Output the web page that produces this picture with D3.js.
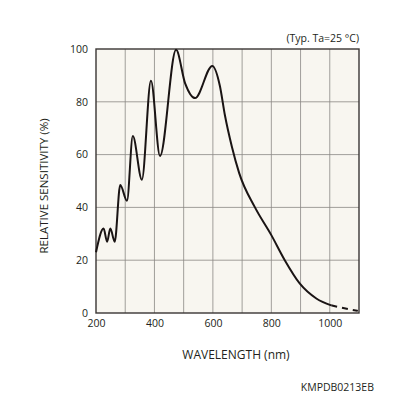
<!DOCTYPE html>
<html lang="en">
<head>
<meta charset="UTF-8">
<title>Relative sensitivity</title>
<script src="https://cdn.jsdelivr.net/npm/d3@7"></script>
<style>
  body { margin: 0; background: #fff; }
  text { font-family: "Open Sans", sans-serif; fill: #231f20; }
</style>
</head>
<body>
<script>
// solid part of the spectral response
const wavelengths = [200, 226, 238, 249, 264, 283, 306, 326, 357, 388, 419, 474, 505, 539, 598, 624, 641, 665, 690, 744, 800, 846, 897, 954, 1005];
const sensitivity = [23, 32, 27, 32, 27, 48.5, 42.5, 67, 50.5, 88, 59.5, 99.7, 87, 81.4, 93.6, 86, 75, 63, 53, 40, 29.5, 20, 11.2, 5.5, 2.9];
// dashed tail
const tailWavelengths = [1005, 1050, 1096];
const tailSensitivity = [2.9, 1.8, 0.8];

const xTicks = [200, 400, 600, 800, 1000];
const yTicks = [0, 20, 40, 60, 80, 100];
const xGrid = [300, 400, 500, 600, 700, 800, 900, 1000];
const yGrid = [20, 40, 60, 80];

const width = 396, height = 396;
const margin = { top: 49, right: 37, bottom: 83, left: 96 };

const svg = d3.select('body').append('svg')
    .attr('width', width)
    .attr('height', height);

const x = d3.scaleLinear().domain([200, 1100]).range([margin.left, width - margin.right]);
const y = d3.scaleLinear().domain([0, 100]).range([height - margin.bottom, margin.top]);

// plot background
svg.append('rect')
    .attr('x', x(200)).attr('y', y(100))
    .attr('width', x(1100) - x(200)).attr('height', y(0) - y(100))
    .attr('fill', '#f8f6f0');

// grid
svg.append('g').selectAll('line').data(xGrid).join('line')
    .attr('x1', d => x(d)).attr('x2', d => x(d))
    .attr('y1', y(0)).attr('y2', y(100))
    .attr('stroke', '#8a8884').attr('stroke-width', 0.8);
svg.append('g').selectAll('line').data(yGrid).join('line')
    .attr('y1', d => y(d)).attr('y2', d => y(d))
    .attr('x1', x(200)).attr('x2', x(1100))
    .attr('stroke', '#8a8884').attr('stroke-width', 0.8);

// axes labels
const xAxis = svg.append('g')
    .attr('transform', `translate(0, ${y(0)})`)
    .call(d3.axisBottom(x).tickValues(xTicks).tickFormat(d3.format('d')).tickSize(0).tickPadding(7));
const yAxis = svg.append('g')
    .attr('transform', `translate(${x(200)}, 0)`)
    .call(d3.axisLeft(y).tickValues(yTicks).tickSize(0).tickPadding(8));
[xAxis, yAxis].forEach(a => {
    a.select('.domain').remove();
    a.selectAll('text').attr('font-size', 10.5).attr('font-family', '"Open Sans", sans-serif').attr('fill', '#231f20');
});

// frame
svg.append('rect')
    .attr('x', x(200)).attr('y', y(100))
    .attr('width', x(1100) - x(200)).attr('height', y(0) - y(100))
    .attr('fill', 'none').attr('stroke', '#3a3634').attr('stroke-width', 1.4);

const line = d3.line()
    .x(d => x(d[0]))
    .y(d => y(d[1]))
    .curve(d3.curveMonotoneX);

svg.append('path')
    .datum(wavelengths.map((w, i) => [w, sensitivity[i]]))
    .attr('d', line)
    .attr('fill', 'none')
    .attr('stroke', '#1a1414')
    .attr('stroke-width', 2);

svg.append('path')
    .datum(tailWavelengths.map((w, i) => [w, tailSensitivity[i]]))
    .attr('d', line)
    .attr('fill', 'none')
    .attr('stroke', '#1a1414')
    .attr('stroke-width', 2)
    .attr('stroke-dasharray', '6,5');

// titles
svg.append('text')
    .attr('x', x(1100)).attr('y', 42)
    .attr('text-anchor', 'end')
    .attr('font-size', 10.5)
    .text('(Typ. Ta=25 °C)');

svg.append('text')
    .attr('x', 236).attr('y', 359)
    .attr('text-anchor', 'middle')
    .attr('font-size', 12)
    .text('WAVELENGTH (nm)');

svg.append('text')
    .attr('transform', 'translate(48, 186) rotate(-90)')
    .attr('text-anchor', 'middle')
    .attr('font-size', 11.5)
    .text('RELATIVE SENSITIVITY (%)');

svg.append('text')
    .attr('x', 374).attr('y', 391)
    .attr('text-anchor', 'end')
    .attr('font-size', 10.5)
    .text('KMPDB0213EB');
</script>
</body>
</html>
